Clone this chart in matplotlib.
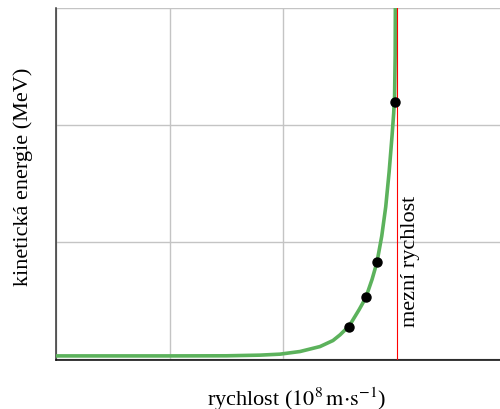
import numpy as np
import matplotlib
matplotlib.use("Agg")
import matplotlib.pyplot as plt

plt.rcParams['font.family'] = ['Liberation Serif', 'DejaVu Serif']
plt.rcParams['mathtext.fontset'] = 'stix'

# curve: speed (10^8 m/s), kinetic energy (MeV)
curve_v = [0.0, 1.0, 1.5, 1.794, 1.970, 2.146, 2.322, 2.436, 2.498, 2.573,
           2.60, 2.665, 2.70, 2.727, 2.78, 2.823, 2.865, 2.900, 2.930, 2.955,
           2.970, 2.978, 2.983, 2.985]
curve_ke = [0.05, 0.05, 0.052, 0.063, 0.080, 0.125, 0.210, 0.313, 0.41, 0.552,
            0.63, 0.838, 0.96, 1.06, 1.36, 1.653, 2.10, 2.60, 3.20, 3.80,
            4.20, 4.50, 5.20, 6.2]

# measured points
meas_v = [2.573, 2.727, 2.823, 2.978]
meas_ke = [0.552, 1.06, 1.653, 4.39]

c_limit = 3.0

fig = plt.figure(figsize=(5, 4.09), dpi=100)
ax = fig.add_axes([0.112, 0.1198, 0.888, 0.8606])

ax.set_xlim(0, 3.905)
ax.set_ylim(-0.02, 6.0)
ax.set_xticks([0, 1, 2])   # the line at 3 is the red limit line
ax.set_yticks([0, 2, 4, 6])
ax.grid(True, color='#c4c4c4', lw=1.0)
ax.tick_params(length=0, labelbottom=False, labelleft=False)

ax.plot(curve_v, curve_ke, color='#5cb25c', lw=2.6, solid_capstyle='butt',
        solid_joinstyle='round', zorder=3)
ax.axvline(c_limit, color='#ff0000', lw=0.8, zorder=3.5)
ax.plot(meas_v, meas_ke, 'o', color='black', ms=6.5, zorder=4)

ax.text(3.12, 0.55, 'mezní rychlost', rotation=90, ha='center', va='bottom',
        fontsize=16)

ax.spines['top'].set_visible(False)
ax.spines['right'].set_visible(False)
ax.spines['left'].set_color('#333333')
ax.spines['left'].set_linewidth(1.1)
ax.spines['bottom'].set_color('black')
ax.spines['bottom'].set_linewidth(1.1)

ax.set_xlabel(r'rychlost ($10^8\,\mathrm{m{\cdot}s^{-1}}$)', fontsize=16)
ax.set_ylabel('kinetická energie (MeV)', fontsize=16)
ax.xaxis.set_label_coords(0.543, -0.072)
ax.yaxis.set_label_coords(-0.052, 0.52)

fig.savefig('out.png', dpi=100)
